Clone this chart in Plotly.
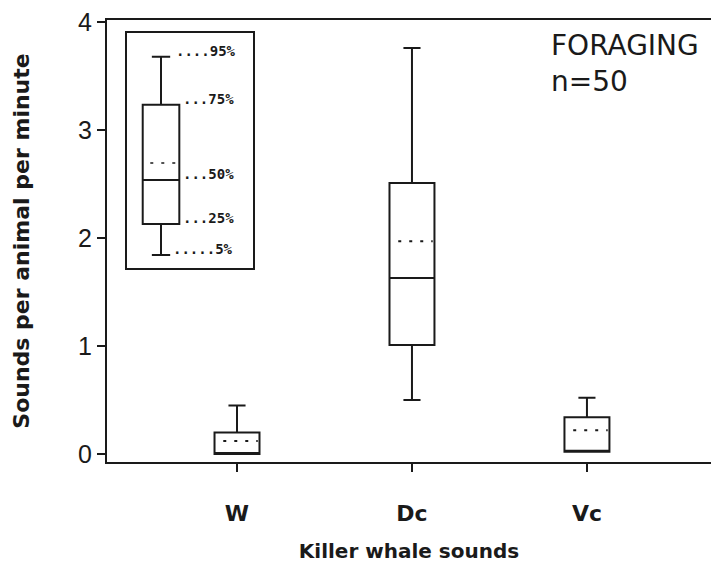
import plotly.graph_objects as go

# ---- data ----
categories = ["W", "Dc", "Vc"]
p5 = [0.0, 0.50, 0.02]       # lower whisker
p25 = [0.0, 1.01, 0.02]      # box bottom
p50 = [0.0, 1.63, 0.02]      # median
p75 = [0.20, 2.51, 0.34]     # box top
p95 = [0.45, 3.76, 0.52]     # upper whisker
means = [0.12, 1.97, 0.22]   # dotted line

y_ticks = [0, 1, 2, 3, 4]

# legend (key) box values, arbitrary units
key_labels = ["....95%", "...75%", "...50%", "...25%", ".....5%"]
key_p5 = [13]
key_p25 = [44]
key_p50 = [88]
key_p75 = [163]
key_p95 = [211]
key_mean = [105]

INK = "#1a1a1a"
BOX_W = 0.257
KEY_X = 0.27
KEY_W = 0.29
DOTS = "3px,8px"

xpos = list(range(len(categories)))

fig = go.Figure()

fig.add_trace(go.Box(
    x=xpos, q1=p25, median=p50, q3=p75,
    lowerfence=p5, upperfence=p95,
    width=BOX_W, whiskerwidth=0.38,
    line=dict(color=INK, width=2), fillcolor="rgba(0,0,0,0)",
    boxpoints=False, showlegend=False, hoverinfo="skip",
))

# dotted mean lines
mx, my = [], []
for i, m in enumerate(means):
    mx += [i - BOX_W / 2 + 0.05, i + BOX_W / 2 - 0.01, None]
    my += [m, m, None]
fig.add_trace(go.Scatter(
    x=mx, y=my, mode="lines", line=dict(color=INK, width=2, dash=DOTS),
    showlegend=False, hoverinfo="skip",
))

# key box
fig.add_trace(go.Box(
    x=[KEY_X], q1=key_p25, median=key_p50, q3=key_p75,
    lowerfence=key_p5, upperfence=key_p95,
    width=KEY_W, whiskerwidth=0.5,
    line=dict(color=INK, width=2), fillcolor="rgba(0,0,0,0)",
    boxpoints=False, showlegend=False, hoverinfo="skip",
    xaxis="x2", yaxis="y2",
))
fig.add_trace(go.Scatter(
    x=[KEY_X - KEY_W / 2 + 0.06, KEY_X + KEY_W / 2 - 0.02],
    y=[key_mean[0], key_mean[0]], mode="lines",
    line=dict(color=INK, width=1.5, dash=DOTS),
    showlegend=False, hoverinfo="skip", xaxis="x2", yaxis="y2",
))

key_vals = [key_p95[0], key_p75[0], key_p50[0], key_p25[0], key_p5[0]]
key_xs = [0.37, 0.43, 0.43, 0.43, 0.35]
for lab, v, xx in zip(key_labels, key_vals, key_xs):
    fig.add_annotation(
        x=xx, y=v, xref="x2", yref="y2", text=lab, showarrow=False,
        xanchor="left", yanchor="middle", yshift=6,
        font=dict(family="DejaVu Sans Mono", size=14, color=INK, weight="bold"),
    )

fig.add_annotation(
    x=0.731, y=(462 - 45) / 442, xref="paper", yref="paper",
    xanchor="left", yanchor="middle",
    text="FORAGING", showarrow=False,
    font=dict(family="DejaVu Sans", size=28, color=INK),
)
fig.add_annotation(
    x=0.731, y=(462 - 82) / 442, xref="paper", yref="paper",
    xanchor="left", yanchor="middle",
    text="n=50", showarrow=False,
    font=dict(family="DejaVu Sans", size=28, color=INK),
)

fig.update_layout(
    width=711, height=571,
    margin=dict(l=107, r=0, t=20, b=109),
    paper_bgcolor="white", plot_bgcolor="white",
    xaxis=dict(
        range=[-0.743, 2.709], tickvals=xpos, ticktext=categories,
        showline=True, linecolor=INK, linewidth=2, mirror=True,
        ticks="outside", ticklen=8, tickwidth=2, tickcolor=INK,
        ticklabelstandoff=23, showgrid=False, zeroline=False,
        tickfont=dict(family="DejaVu Sans", size=22, color=INK, weight="bold"),
        title=dict(text="Killer whale sounds", standoff=19,
                   font=dict(family="DejaVu Sans", size=20, color=INK, weight="bold")),
    ),
    yaxis=dict(
        range=[-0.074, 4.019], tickvals=y_ticks,
        showline=True, linecolor=INK, linewidth=2, mirror=False,
        ticks="outside", ticklen=8, tickwidth=2, tickcolor=INK,
        showgrid=False, zeroline=False,
        tickfont=dict(family="Liberation Sans", size=25, color=INK),
        title=dict(text="Sounds per animal per minute", standoff=42,
                   font=dict(family="DejaVu Sans", size=22, color=INK, weight="bold")),
    ),
    xaxis2=dict(
        domain=[0.033, 0.242], anchor="y2", range=[0, 1],
        showline=True, linecolor=INK, linewidth=2, mirror=True,
        showticklabels=False, ticks="", showgrid=False, zeroline=False,
    ),
    yaxis2=dict(
        domain=[0.439, 0.971], anchor="x2", range=[0, 235],
        showline=True, linecolor=INK, linewidth=2, mirror=True,
        showticklabels=False, ticks="", showgrid=False, zeroline=False,
    ),
)

fig.write_html("out.html")
